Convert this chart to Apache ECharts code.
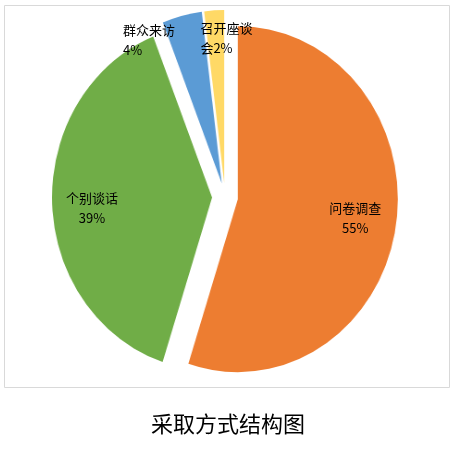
<!DOCTYPE html>
<html>
<head>
<meta charset="utf-8">
<script src="https://cdn.jsdelivr.net/npm/echarts@6/dist/echarts.min.js"></script>
<style>
  html, body { margin: 0; padding: 0; background: #fff; }
  #wrap { position: relative; width: 456px; height: 450px; }
  #pie, #chart { position: absolute; left: 0; top: 0; width: 456px; height: 450px; }
  /* the pie is drawn a little narrower than it is tall */
  #pie { transform: scaleX(0.925); transform-origin: 225px 0; }
</style>
</head>
<body>
<div id="wrap">
  <div id="pie"></div>
  <div id="chart"></div>
</div>
<script>
// Survey methods and their share (%)
const categories = ['问卷调查', '个别谈话', '群众来访', '召开座谈会'];
const shares = [55, 39, 4, 2];
const chartTitle = '采取方式结构图';

const palette = ['#ED7D31', '#70AD47', '#5B9BD5', '#FFD966'];
const FONT = '"Noto Sans CJK SC", "Noto Sans", sans-serif';

const CENTER = [225, 197];
const R = 173;
const EXPLODE = 14;
const LABEL_R = 166;

// label nudges per slice (the two small slices carry their labels above the pie)
const labelShift = [[-5, 0], [4, 7], [-40, -24], [12, -22]];
const smallSlice = [false, false, true, true];

const sliceData = categories.map((name, i) => ({
  name: name,
  value: shares[i],
  selected: true,
  itemStyle: { color: palette[i] }
}));

const labelData = categories.map((name, i) => ({
  name: name,
  value: shares[i],
  selected: true,
  itemStyle: { color: 'rgba(0,0,0,0)' },
  label: smallSlice[i] ? {
    width: 56,
    formatter: (p) => {
      const full = p.name + p.value + '%';
      return '{l|' + full.slice(0, 4) + '}\n{l|' + full.slice(4) + '}';
    },
    rich: { l: { align: 'left', fontSize: 13, fontFamily: FONT, color: '#000', lineHeight: 20, width: 56 } }
  } : {}
}));

// exploded pie slices
const pieChart = echarts.init(document.getElementById('pie'), null, { renderer: 'canvas' });
pieChart.setOption({
  animation: false,
  series: [{
    type: 'pie',
    center: CENTER,
    radius: R,
    startAngle: 90,
    clockwise: true,
    selectedMode: 'multiple',
    selectedOffset: EXPLODE,
    label: { show: false },
    labelLine: { show: false },
    emphasis: { disabled: true },
    data: sliceData
  }]
});

// frame, title and data labels
const chart = echarts.init(document.getElementById('chart'), null, { renderer: 'canvas' });
chart.setOption({
  animation: false,
  backgroundColor: 'transparent',
  title: {
    text: chartTitle,
    left: 223,
    top: 408,
    textAlign: 'center',
    textStyle: { fontFamily: FONT, fontSize: 22, fontWeight: 'normal', color: '#000' }
  },
  graphic: [{
    type: 'rect',
    shape: { x: 4.5, y: 5.5, width: 445, height: 382 },
    style: { fill: 'none', stroke: '#d9d9d9', lineWidth: 1 },
    silent: true,
    z: -10
  }],
  series: [{
    // transparent ring used only to place the data labels
    type: 'pie',
    center: CENTER,
    radius: [74, LABEL_R],
    startAngle: 90,
    clockwise: true,
    selectedMode: 'multiple',
    selectedOffset: EXPLODE,
    avoidLabelOverlap: false,
    silent: true,
    label: {
      show: true,
      position: 'inside',
      formatter: '{b}\n{c}%',
      fontFamily: FONT,
      fontSize: 13,
      lineHeight: 20,
      color: '#000'
    },
    labelLayout: (p) => ({ dx: labelShift[p.dataIndex][0], dy: labelShift[p.dataIndex][1] }),
    labelLine: { show: false },
    emphasis: { disabled: true },
    data: labelData
  }]
});
</script>
</body>
</html>
